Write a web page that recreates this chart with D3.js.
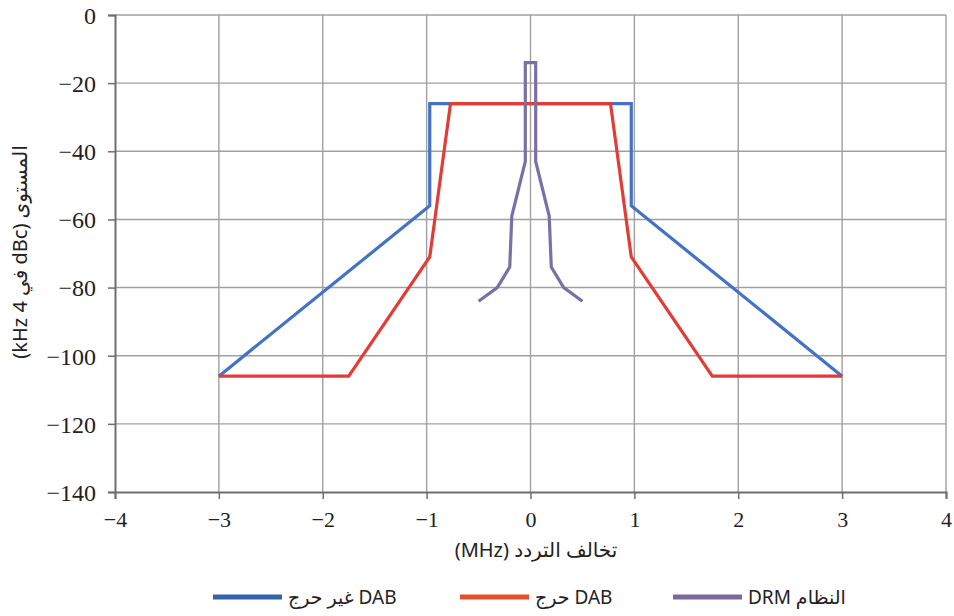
<!DOCTYPE html>
<html><head><meta charset="utf-8">
<script src="https://cdn.jsdelivr.net/npm/d3@7"></script>
<style>
html,body{margin:0;padding:0;background:#fff;}
svg{display:block;}
.grid line{stroke:#a0a0a0;stroke-width:1.4;}
</style></head>
<body>
<svg id="chart" width="954" height="616"></svg>
<script>
// ---- data ----
const xTicks = [-4, -3, -2, -1, 0, 1, 2, 3, 4];
const yTicks = [0, -20, -40, -60, -80, -100, -120, -140];

const dabNonCriticalX = [-3, -0.97, -0.97, 0.97, 0.97, 3];
const dabNonCriticalY = [-106, -56, -26, -26, -56, -106];

const dabCriticalX = [-3, -1.75, -0.97, -0.77, 0.77, 0.97, 1.75, 3];
const dabCriticalY = [-106, -106, -71, -26, -26, -71, -106, -106];

const drmX = [-0.5, -0.32, -0.2, -0.18, -0.05, -0.05, 0.05, 0.05, 0.18, 0.2, 0.32, 0.5];
const drmY = [-84, -80, -74, -59, -43, -14, -14, -43, -59, -74, -80, -84];

const seriesNames = ["DAB غير حرج", "DAB حرج", "النظام DRM"];
const seriesColors = ["#4472c4", "#e23c36", "#7a70a6"];
const legendColors = ["#3563a8", "#e0502c", "#7a6a9c"];

const xTitle = "تخالف التردد (MHz)";
const yTitle = "المستوى (dBc في 4 kHz)";

// ---- layout ----
const svg = d3.select("#chart");
const L = 115, R = 946, T = 15, B = 492;
const x = d3.scaleLinear().domain([-4, 4]).range([L, R]);
const y = d3.scaleLinear().domain([0, -140]).range([T, B]);

// gridlines
const g = svg.append("g").attr("class", "grid");
g.selectAll("line.h").data(yTicks.filter(d => d !== -140)).enter().append("line")
  .attr("x1", L).attr("x2", R).attr("y1", d => y(d)).attr("y2", d => y(d));
g.selectAll("line.v").data(xTicks.filter(d => d !== -4)).enter().append("line")
  .attr("y1", T).attr("y2", B).attr("x1", d => x(d)).attr("x2", d => x(d));

// axes
const yAxis = d3.axisLeft(y).tickValues(yTicks).tickSize(7).tickPadding(12)
  .tickFormat(d => d === 0 ? "0" : "\u2212" + Math.abs(d));
const xAxis = d3.axisBottom(x).tickValues(xTicks).tickSize(7).tickPadding(12)
  .tickFormat(d => d < 0 ? "\u2212" + Math.abs(d) : String(d));

const ya = svg.append("g").attr("transform", `translate(${L},0)`).call(yAxis);
const xa = svg.append("g").attr("transform", `translate(0,${B})`).call(xAxis);
[ya, xa].forEach(a => {
  a.select(".domain").attr("stroke", "#6e6e6e").attr("stroke-width", 2);
  a.selectAll(".tick line").attr("stroke", "#6e6e6e").attr("stroke-width", 1.5);
  a.selectAll(".tick text").attr("font-family", "'Liberation Serif', 'Times New Roman', serif")
    .attr("fill", "#222");
});
ya.selectAll(".tick text").attr("font-size", 24).attr("dy", "0.35em");
xa.selectAll(".tick text").attr("font-size", 22).attr("dy", "0.72em");

// series
const line = d3.line().x(d => x(d[0])).y(d => y(d[1]));
const series = [
  d3.zip(dabNonCriticalX, dabNonCriticalY),
  d3.zip(dabCriticalX, dabCriticalY),
  d3.zip(drmX, drmY)
];
[0, 1, 2].forEach(i => {
  svg.append("path").datum(series[i]).attr("d", line)
    .attr("fill", "none").attr("stroke", seriesColors[i]).attr("stroke-width", 3.2)
    .attr("stroke-linejoin", "miter");
});

// titles
const sans = "'Noto Sans', 'DejaVu Sans', sans-serif";
svg.append("text").attr("x", 536).attr("y", 557).attr("text-anchor", "middle")
  .attr("direction", "rtl").style("direction", "rtl")
  .attr("font-family", sans).attr("font-size", 20).attr("fill", "#222")
  .text(xTitle);
svg.append("text").attr("transform", "translate(27,252) rotate(-90)").attr("text-anchor", "middle")
  .attr("direction", "rtl").style("direction", "rtl")
  .attr("font-family", sans).attr("font-size", 20).attr("fill", "#222")
  .text(yTitle);

// legend
const legendX = [213, 460, 673];
const lg = svg.append("g");
seriesNames.forEach((name, i) => {
  lg.append("line").attr("x1", legendX[i]).attr("x2", legendX[i] + 69)
    .attr("y1", 597).attr("y2", 597).attr("stroke", legendColors[i]).attr("stroke-width", 5);
  lg.append("text").attr("x", legendX[i] + 75).attr("y", 604)
    .attr("direction", "rtl").style("direction", "rtl").attr("text-anchor", "end")
    .attr("font-family", sans).attr("font-size", 19).attr("fill", "#222")
    .text(name);
});
</script>
</body></html>
